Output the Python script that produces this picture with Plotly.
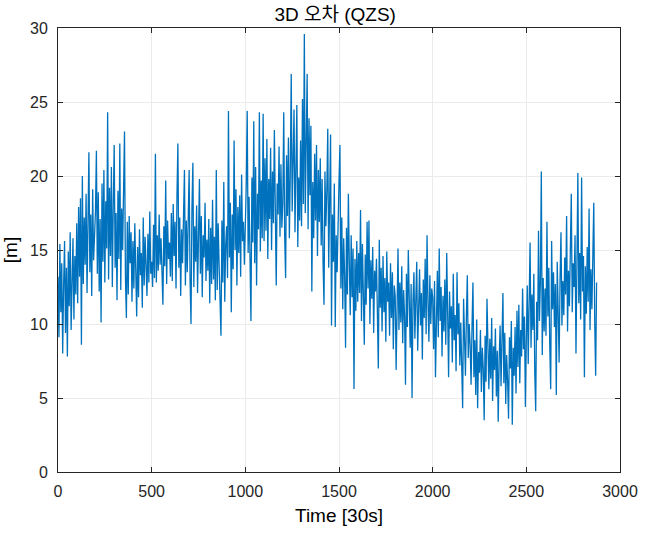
import plotly.graph_objects as go

err_3d = [
    # 0-100
    13.2, 9.1, 15.4, 10.8, 14.1, 8.0, 12.6, 15.6, 9.4, 13.8, 7.8, 14.9, 11.2, 16.2, 9.6, 13.1, 15.8, 10.3, 14.6, 12.0,
    # 100-200
    16.8, 11.4, 17.9, 13.2, 18.5, 8.6, 20.0, 12.7, 17.2, 14.0, 18.8, 12.1, 16.5, 21.6, 13.5, 17.4, 11.9, 19.1, 14.3, 16.0,
    # 200-300
    17.6, 21.7, 13.4, 18.9, 12.2, 17.1, 10.1, 19.5, 14.2, 20.4, 12.8, 18.3, 15.1, 24.3, 13.0, 19.2, 14.6, 20.6, 12.5, 18.0,
    # 300-400
    22.1, 13.8, 17.5, 11.6, 19.0, 14.4, 22.2, 12.3, 17.8, 15.0, 18.6, 23.0, 13.1, 10.4, 16.9, 12.0, 17.3, 14.1, 16.2, 11.5,
    # 400-500
    15.6, 12.4, 16.8, 13.0, 10.5, 15.2, 11.8, 16.4, 13.3, 14.8, 11.1, 17.2, 12.6, 15.9, 13.7, 11.9, 16.1, 12.8, 17.6, 13.4,
    # 500-600
    14.2, 12.5, 16.7, 13.1, 21.5, 12.8, 16.0, 13.6, 17.4, 14.0, 15.8, 12.2, 11.3, 16.6, 13.9, 19.7, 12.7, 17.0, 14.4, 15.5,
    # 600-700
    13.2, 17.5, 12.9, 18.1, 14.6, 16.9, 12.4, 18.6, 22.2, 13.8, 17.2, 11.9, 16.4, 14.1, 18.3, 20.4, 12.6, 17.0, 13.5, 16.2,
    # 700-800
    20.4, 13.0, 10.0, 17.8, 20.9, 12.5, 16.6, 14.2, 18.0, 12.1, 16.9, 19.8, 13.4, 17.3, 11.8, 16.0, 14.5, 18.2, 12.9, 15.7,
    # 800-900
    13.6, 17.1, 11.4, 16.5, 12.7, 18.4, 13.0, 15.9, 11.6, 20.4, 12.3, 16.8, 14.0, 10.9, 9.2, 17.0, 12.8, 19.6, 11.5, 15.3,
    # 900-1000
    16.6, 13.1, 24.4, 14.5, 18.2, 10.8, 17.4, 13.7, 22.4, 15.0, 19.1, 12.6, 17.9, 14.8, 18.7, 13.2, 20.1, 15.6, 16.9, 14.0,
    # 1000-1100
    16.2, 19.4, 24.4, 14.8, 18.6, 13.0, 10.2, 19.9, 15.5, 23.7, 14.1, 20.6, 12.6, 18.8, 16.4, 24.3, 14.9, 19.7, 15.8, 24.2,
    # 1100-1200
    15.6, 21.2, 16.3, 22.5, 14.4, 19.8, 17.1, 21.9, 15.0, 20.3, 16.8, 23.1, 14.7, 12.6, 19.5, 17.4, 22.0, 15.9, 20.8, 16.5,
    # 1200-1300
    18.2, 24.3, 16.0, 13.1, 21.4, 17.3, 22.6, 15.8, 20.2, 26.9, 17.6, 22.0, 24.5, 16.2, 21.3, 24.8, 15.2, 19.9, 17.0, 22.4,
    # 1300-1400
    16.6, 25.2, 18.1, 29.6, 17.5, 21.8, 26.9, 16.4, 23.9, 18.7, 23.4, 12.2, 19.6, 15.8, 21.5, 17.0, 22.1, 14.6, 20.4, 16.9,
    # 1400-1500
    21.2, 15.3, 19.8, 14.1, 11.3, 20.3, 16.6, 18.9, 23.2, 13.8, 19.0, 22.8, 9.9, 17.4, 14.2, 19.5, 9.8, 16.0, 13.5, 18.4,
    # 1500-1600
    19.6, 22.1, 12.4, 17.2, 11.0, 15.8, 13.3, 8.4, 16.5, 12.0, 18.8, 14.2, 10.6, 16.0, 11.8, 15.1, 5.6, 14.4, 10.9, 15.6,
    # 1600-1700
    11.5, 14.8, 12.1, 17.7, 10.2, 15.4, 12.9, 8.6, 14.7, 11.3, 16.9, 12.4, 17.0, 10.0, 14.3, 11.7, 15.2, 9.4, 13.6, 12.2,
    # 1700-1800
    14.4, 10.6, 7.0, 15.7, 11.1, 13.8, 9.5, 14.6, 10.8, 13.1, 8.8, 14.9, 11.5, 12.8, 9.2, 14.1, 10.4, 13.5, 8.3, 12.6,
    # 1800-1900
    11.9, 6.9, 13.2, 15.1, 9.6, 12.8, 10.1, 13.9, 8.7, 12.3, 10.5, 5.9, 13.4, 9.8, 15.0, 11.2, 8.4, 12.7, 5.0, 11.6,
    # 1900-2000
    13.5, 9.0, 12.6, 14.2, 8.2, 11.9, 13.7, 9.9, 12.1, 7.6, 13.0, 10.4, 14.4, 9.3, 16.0, 11.5, 8.8, 13.3, 10.0, 12.4,
    # 2000-2100
    11.8, 8.3, 12.9, 6.4, 10.7, 13.6, 9.1, 15.1, 10.2, 12.5, 7.8, 11.9, 9.5, 13.0, 8.6, 14.8, 10.8, 6.4, 12.2, 9.7,
    # 2100-2200
    11.2, 7.4, 13.4, 8.9, 10.6, 6.8, 13.5, 9.3, 11.4, 7.2, 10.1, 8.0, 4.3, 11.7, 9.0, 6.5, 10.4, 13.3, 7.7, 10.0,
    # 2200-2300
    8.6, 5.9, 9.8, 12.8, 6.4, 8.9, 5.2, 10.3, 4.3, 8.1, 6.7, 9.6, 5.4, 8.4, 7.0, 3.5, 9.2, 6.1, 11.7, 7.4,
    # 2300-2400
    5.6, 9.0, 6.3, 10.4, 4.8, 8.5, 6.9, 9.7, 5.1, 8.2, 3.4, 7.6, 9.9, 5.8, 8.8, 12.1, 6.0, 9.4, 4.6, 7.9,
    # 2400-2500
    6.2, 3.6, 9.1, 7.0, 10.2, 3.2, 8.4, 6.5, 9.8, 5.3, 10.9, 7.1, 11.3, 6.0, 9.6, 7.8, 12.4, 8.3, 10.5, 4.4,
    # 2500-2600
    9.0, 12.6, 7.3, 11.1, 15.5, 8.4, 12.0, 9.6, 13.4, 6.8, 4.1, 11.5, 8.9, 16.3, 10.2, 12.8, 20.3, 7.9, 13.1, 9.5,
    # 2600-2700
    12.4, 9.2, 16.9, 10.5, 13.8, 8.6, 5.6, 15.6, 11.0, 13.5, 9.8, 12.7, 5.2, 14.2, 10.1, 7.4, 13.0, 16.2, 9.9, 12.9,
    # 2700-2800
    10.6, 14.5, 12.0, 17.3, 9.5, 13.6, 11.2, 15.0, 18.8, 10.8, 14.1, 12.5, 16.0, 8.0, 13.3, 20.2, 11.4, 14.8, 10.3, 19.9,
    # 2800-2880
    12.2, 14.6, 6.4, 13.9, 10.7, 15.2, 11.5, 17.8, 9.6, 13.7, 11.0, 14.9, 18.2, 10.2, 6.5, 12.8,
]
step = 5
epochs = [i * step for i in range(len(err_3d))]

title_text = "3D 오차 (QZS)"
x_label = "Time [30s]"
y_label = "[m]"
x_ticks = [0, 500, 1000, 1500, 2000, 2500, 3000]
y_ticks = [0, 5, 10, 15, 20, 25, 30]

FONT = "Arial, 'Liberation Sans', 'Noto Sans CJK KR', sans-serif"
AX = "#262626"

fig = go.Figure()
fig.add_trace(go.Scatter(
    x=epochs, y=err_3d, mode="lines",
    line=dict(color="#0072BD", width=1.3),
    showlegend=False,
))

axis_common = dict(
    showgrid=True, gridcolor="#EBEBEB", gridwidth=1,
    showline=True, linecolor=AX, linewidth=1, mirror="ticks",
    ticks="inside", ticklen=5, tickcolor=AX,
    zeroline=False, automargin=False,
    tickfont=dict(family=FONT, size=16, color=AX),
)

fig.update_layout(
    width=647, height=533,
    margin=dict(l=58, r=27, t=28, b=61),
    paper_bgcolor="white", plot_bgcolor="white",
    title=dict(text=title_text, x=0.518, xanchor="center", y=0.974, yanchor="middle",
               font=dict(family=FONT, size=19, color="#000000")),
    xaxis=dict(range=[0, 3000], tickvals=x_ticks, ticklabelstandoff=5,
               title=dict(text=x_label, standoff=9, font=dict(family=FONT, size=19, color="#000000")),
               **axis_common),
    yaxis=dict(range=[0, 30], tickvals=y_ticks, ticklabelstandoff=6,
               title=dict(text=y_label, standoff=8, font=dict(family=FONT, size=19, color="#000000")),
               **axis_common),
)

fig.write_html("out.html")
